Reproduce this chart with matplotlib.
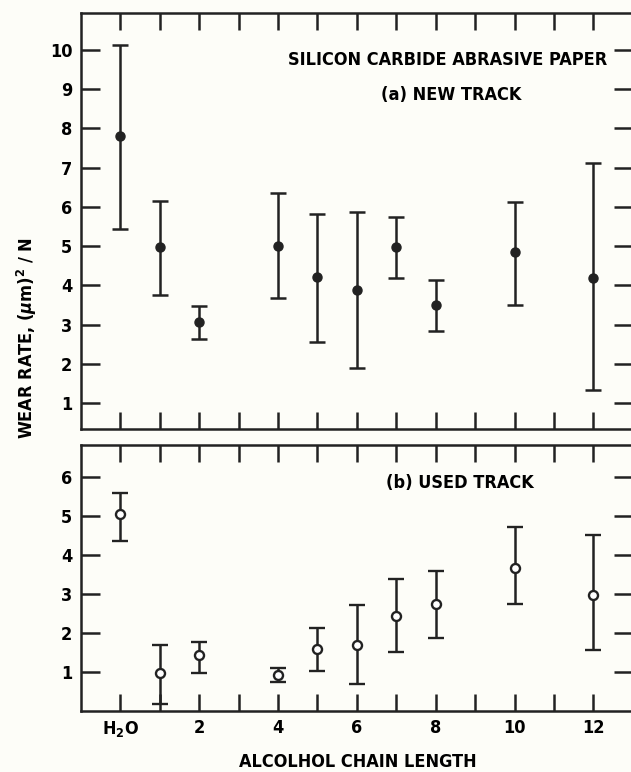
import matplotlib.pyplot as plt
import numpy as np

plt.rcParams['font.family'] = ['DejaVu Sans']
plt.rcParams['font.stretch'] = 'condensed'
plt.rcParams['font.weight'] = 'bold'
plt.rcParams['mathtext.fontset'] = 'custom'
plt.rcParams['mathtext.rm'] = 'DejaVu Sans:bold'
plt.rcParams['mathtext.it'] = 'DejaVu Sans:bold:italic'

# Positions sur l'axe x (0 = H2O, puis longueur de chaine)
x_pos = [0, 1, 2, 4, 5, 6, 7, 8, 10, 12]
xtick_pos = [0, 2, 4, 6, 8, 10, 12]
xtick_labels = ['H$_2$O', '2', '4', '6', '8', '10', '12']

# (a) piste neuve
new_mean = [7.81, 4.98, 3.07, 5.00, 4.22, 3.88, 4.98, 3.49, 4.84, 4.20]
new_low = [5.43, 3.76, 2.64, 3.67, 2.56, 1.90, 4.18, 2.84, 3.49, 1.34]
new_high = [10.13, 6.14, 3.48, 6.36, 5.81, 5.87, 5.75, 4.13, 6.12, 7.11]

# (b) piste usagee
used_mean = [5.04, 0.98, 1.43, 0.91, 1.60, 1.68, 2.43, 2.74, 3.67, 2.97]
used_low = [4.34, 0.17, 0.97, 0.74, 1.02, 0.68, 1.51, 1.86, 2.73, 1.57]
used_high = [5.59, 1.70, 1.76, 1.10, 2.13, 2.72, 3.38, 3.59, 4.70, 4.51]

fig = plt.figure(figsize=(6.31, 7.72), dpi=100)
fig.patch.set_facecolor('#fdfdf8')
ax1 = fig.add_axes([0.128, 0.4443, 0.875, 0.5387])
ax2 = fig.add_axes([0.128, 0.079, 0.875, 0.3446])

def style(ax, ylim, yticks):
    ax.set_facecolor('#fdfdf8')
    ax.set_xlim(-1, 13)
    ax.set_ylim(*ylim)
    ax.set_xticks(range(0, 13))
    ax.set_yticks(yticks)
    ax.tick_params(direction='in', length=12, width=1.8, top=True, right=True,
                   labelsize=13, pad=6, color='#222')
    ax.tick_params(axis='y', length=14)
    for s in ax.spines.values():
        s.set_linewidth(1.8)
        s.set_color('#222')

style(ax1, (0.34, 10.94), range(1, 11))
style(ax2, (0.0, 6.81), range(1, 7))
ax1.set_xticklabels([])
ax2.set_xticklabels(['' if i not in xtick_pos else xtick_labels[xtick_pos.index(i)] for i in range(13)])

err_new = [np.array(new_mean) - np.array(new_low), np.array(new_high) - np.array(new_mean)]
ax1.errorbar(x_pos, new_mean, yerr=err_new, fmt='o', color='#222', ms=6.5,
             capsize=5.5, elinewidth=1.8, capthick=1.8)

err_used = [np.array(used_mean) - np.array(used_low), np.array(used_high) - np.array(used_mean)]
ax2.errorbar(x_pos, used_mean, yerr=err_used, fmt='o', color='#222', mfc='white',
             mec='#222', mew=1.7, ms=6.5, capsize=5.5, elinewidth=1.8, capthick=1.8)

ax1.text(0.953, 0.887, 'SILICON CARBIDE ABRASIVE PAPER', transform=ax1.transAxes,
         ha='right', va='center', fontsize=13)
ax1.text(0.67, 0.803, '(a) NEW TRACK', transform=ax1.transAxes,
         ha='center', va='center', fontsize=13)
ax2.text(0.687, 0.857, '(b) USED TRACK', transform=ax2.transAxes,
         ha='center', va='center', fontsize=13)

fig.text(0.043, 0.562, r'WEAR RATE, ($\mu$m)$^2$ / N', rotation=90,
         ha='center', va='center', fontsize=13)
fig.text(0.567, 0.013, 'ALCOLHOL CHAIN LENGTH', ha='center', va='center', fontsize=13)

plt.savefig('out.png', dpi=100, facecolor=fig.get_facecolor())
